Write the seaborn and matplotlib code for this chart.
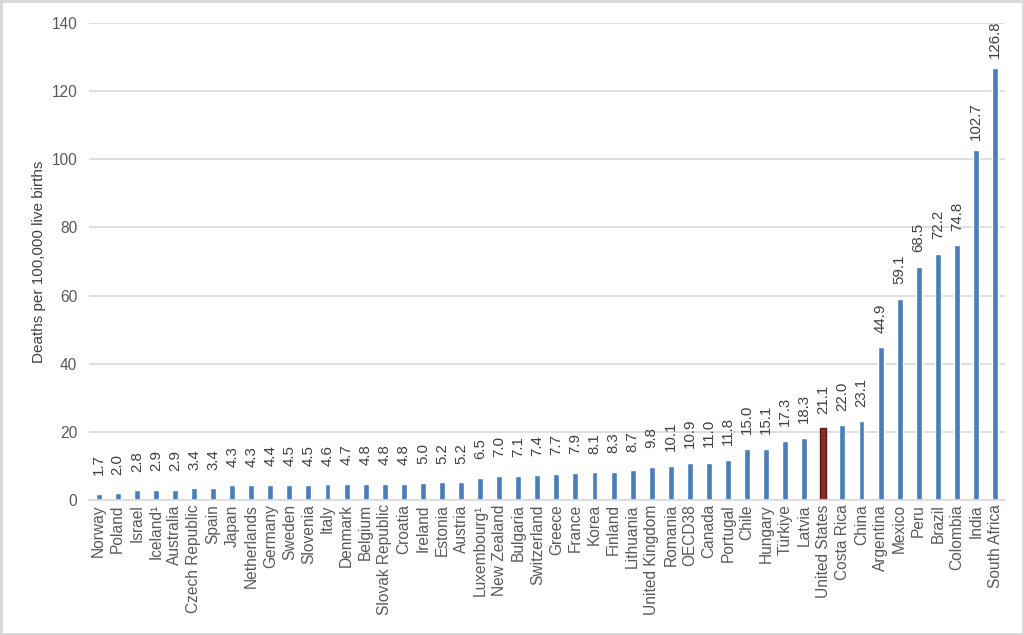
import matplotlib
matplotlib.use("Agg")
import matplotlib.pyplot as plt
import seaborn as sns
import pandas as pd

countries = ["Norway", "Poland", "Israel", "Iceland¹", "Australia", "Czech Republic", "Spain", "Japan",
             "Netherlands", "Germany", "Sweden", "Slovenia", "Italy", "Denmark", "Belgium", "Slovak Republic",
             "Croatia", "Ireland", "Estonia", "Austria", "Luxembourg¹", "New Zealand", "Bulgaria", "Switzerland",
             "Greece", "France", "Korea", "Finland", "Lithuania", "United Kingdom", "Romania", "OECD38",
             "Canada", "Portugal", "Chile", "Hungary", "Türkiye", "Latvia", "United States", "Costa Rica",
             "China", "Argentina", "Mexico", "Peru", "Brazil", "Colombia", "India", "South Africa"]
values = [1.7, 2.0, 2.8, 2.9, 2.9, 3.4, 3.4, 4.3, 4.3, 4.4, 4.5, 4.5, 4.6, 4.7, 4.8, 4.8,
          4.8, 5.0, 5.2, 5.2, 6.5, 7.0, 7.1, 7.4, 7.7, 7.9, 8.1, 8.3, 8.7, 9.8, 10.1, 10.9,
          11.0, 11.8, 15.0, 15.1, 17.3, 18.3, 21.1, 22.0, 23.1, 44.9, 59.1, 68.5, 72.2, 74.8, 102.7, 126.8]
highlight = "United States"
y_ticks = [0, 20, 40, 60, 80, 100, 120, 140]
y_label = "Deaths per 100,000 live births"

sns.set_theme(style="white")
plt.rcParams['font.family'] = ['Liberation Sans', 'DejaVu Sans']

df = pd.DataFrame({"country": countries, "value": values})
df["group"] = ["hl" if c == highlight else "base" for c in countries]

fig = plt.figure(figsize=(10.24, 6.35), dpi=100)
fig.patch.set_edgecolor("#d9d9d9")
fig.patch.set_linewidth(2.5)
ax = fig.add_axes([0.087, 0.2126, 0.894, 0.7512])

sns.barplot(data=df, x="country", y="value", hue="group",
            palette={"base": "#4a7ebb", "hl": "#8c2d2a"}, width=0.31,
            legend=False, ax=ax, dodge=False, saturation=1)

for patch in ax.patches:
    if abs(patch.get_facecolor()[0] - 0x8c / 255) < 0.02:
        patch.set_edgecolor("#5a1a18")
        patch.set_linewidth(1.0)

for cont in ax.containers:
    texts = ax.bar_label(cont, fmt="%.1f", rotation=90, padding=21, fontsize=10.8, color="#404040")
    for t in texts:
        t.set_va("center")
        t.set_ha("center")

ax.set_ylim(0, 140)
ax.set_xlim(-0.5, len(countries) - 0.5)
ax.set_yticks(y_ticks)
ax.yaxis.grid(True, color="#d9d9d9", linewidth=1.2)
ax.set_axisbelow(True)
for s in ["top", "right", "left"]:
    ax.spines[s].set_visible(False)
ax.spines["bottom"].set_color("#d9d9d9")
ax.spines["bottom"].set_linewidth(1.2)
ax.tick_params(axis="both", length=0, labelsize=11.2, labelcolor="#595959")
ax.tick_params(axis="y", pad=8.5)
ax.tick_params(axis="x", pad=3)
ax.set_xticks(range(len(countries)))
ax.set_xticklabels(countries, rotation=90)
ax.set_xlabel("")
ax.set_ylabel(y_label, fontsize=11, color="#404040", labelpad=4)

fig.savefig("out.png", dpi=100, edgecolor=fig.get_edgecolor())
